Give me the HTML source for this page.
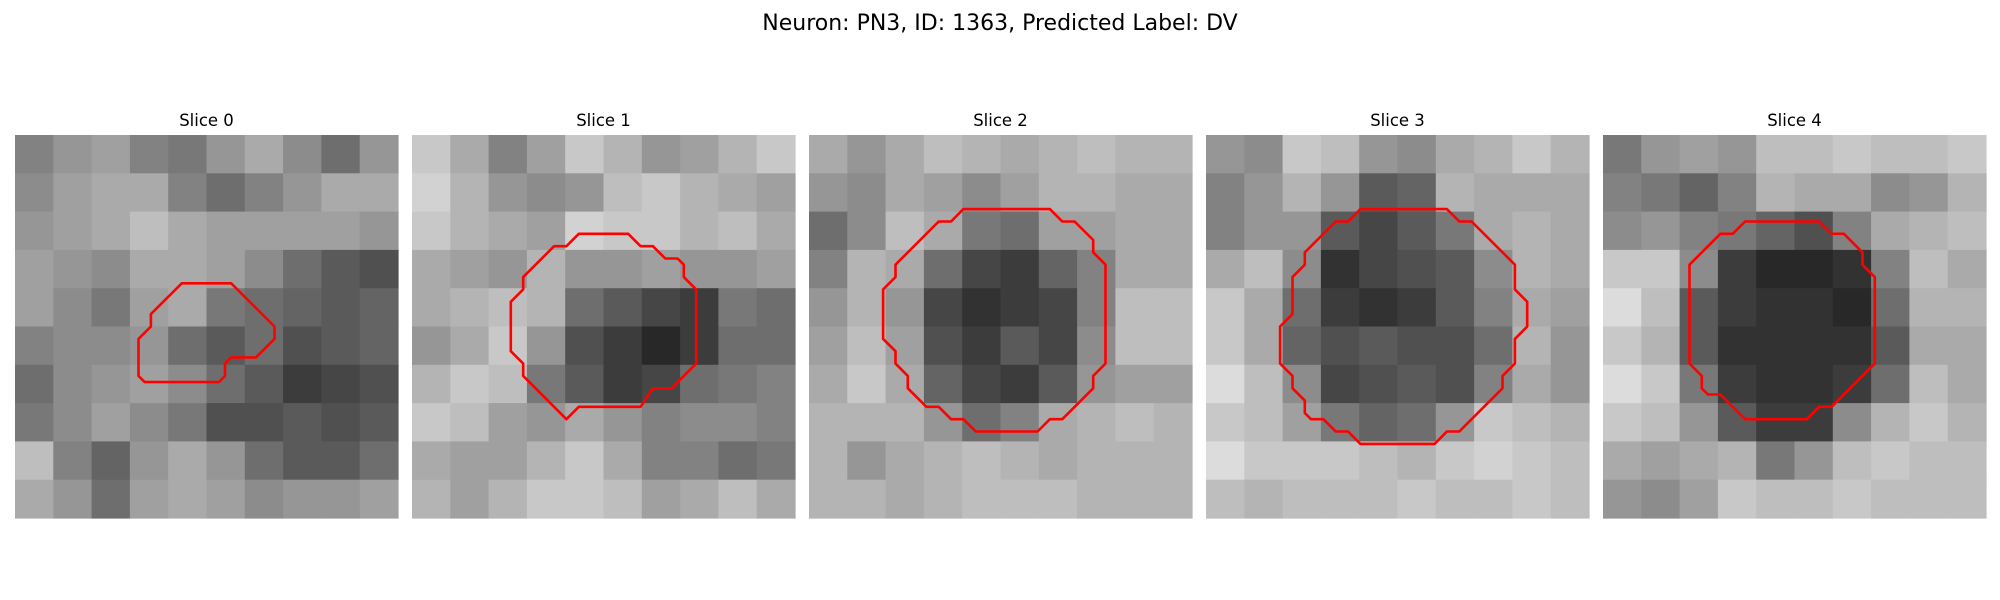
<!DOCTYPE html>
<html><head><meta charset="utf-8"><style>
html,body{margin:0;padding:0;background:#fff;width:2000px;height:600px;overflow:hidden}
svg{display:block}
text{font-family:"DejaVu Sans","Liberation Sans",sans-serif;fill:#000}
</style></head><body>
<svg id="fig" width="2000" height="600">
<text x="1000" y="30" text-anchor="middle" font-size="22">Neuron: PN3, ID: 1363, Predicted Label: DV</text>
</svg>
<script>
const sliceTitles = ["Slice 0","Slice 1","Slice 2","Slice 3","Slice 4"];
// coarse 10x10 brightness estimates (0=black, 255=white) per slice
const slice0 = [
[130,150,160,130,120,150,170,140,110,150],
[140,160,170,170,130,110,130,150,170,170],
[150,160,170,190,170,160,160,160,160,150],
[160,150,140,170,170,160,140,110,90,80],
[160,140,120,160,170,120,110,100,90,100],
[130,140,140,150,110,90,110,80,90,100],
[110,140,150,160,140,110,90,60,70,80],
[120,140,160,140,120,80,80,90,80,90],
[190,130,100,150,170,150,110,90,90,110],
[170,150,110,160,170,160,140,150,150,160]];
const slice1 = [
[200,170,130,160,200,180,150,160,180,200],
[210,180,150,140,150,190,200,180,170,160],
[200,180,170,160,210,200,200,180,190,170],
[170,160,150,180,150,150,160,150,150,160],
[170,180,190,180,110,90,70,60,120,110],
[150,170,200,150,80,60,40,60,110,110],
[180,200,190,120,90,60,70,110,120,130],
[200,190,160,150,170,150,130,140,140,130],
[170,160,160,180,200,170,130,130,110,120],
[180,160,180,200,200,190,160,170,190,170]];
const slice2 = [
[170,150,170,190,180,170,180,190,180,180],
[150,140,170,160,140,160,180,180,170,170],
[110,140,190,170,120,110,160,160,170,170],
[130,180,170,110,70,60,100,130,170,170],
[150,180,150,70,50,60,70,130,190,190],
[160,190,160,80,60,90,70,140,190,190],
[170,200,170,100,70,60,90,150,160,160],
[180,180,180,150,110,130,170,180,190,180],
[180,150,170,180,190,180,170,180,180,180],
[180,180,170,180,190,190,190,180,180,180]];
const slice3 = [
[150,140,200,190,150,140,170,180,200,180],
[130,150,180,150,90,100,180,170,170,170],
[130,150,150,90,70,90,120,170,180,170],
[170,190,140,50,70,80,90,140,180,170],
[200,170,110,60,50,60,90,130,170,160],
[200,170,100,80,90,80,80,110,180,150],
[220,190,140,70,80,90,80,130,170,150],
[200,190,160,120,100,110,150,200,190,180],
[220,200,200,200,190,180,200,210,200,190],
[190,180,190,190,190,200,190,190,200,190]];
const slice4 = [
[120,150,160,150,190,190,200,190,190,200],
[130,120,100,130,180,170,170,140,150,180],
[140,150,130,120,100,80,130,170,180,190],
[200,200,140,60,40,40,50,130,190,170],
[220,190,90,60,50,50,40,110,180,180],
[200,180,90,50,50,50,50,90,170,170],
[220,200,120,60,50,50,60,110,190,170],
[200,190,150,90,60,60,140,180,200,180],
[170,160,170,180,120,150,190,200,190,190],
[150,140,160,200,190,190,200,190,190,190]];
// contour vertices in image-pixel units (31x31 image)
const contour0 = [[13.5,12],[17.5,12],[21,15.5],[21,16.5],[19.5,18],[17.5,18],[17,18.5],[17,19.5],[16.5,20],[10.5,20],[10,19.5],[10,16.5],[11,15.5],[11,14.5]];
const contour1 = [[13.5,8],[17.5,8],[18.5,9],[19.5,9],[20.5,10],[21.5,10],[22,10.5],[22,11.5],[23,12.5],[23,18.5],[21,20.5],[19.5,20.5],[18.5,22],[13.5,22],[12.5,23],[9,19.5],[9,18.5],[8,17.5],[8,13.5],[9,12.5],[9,11.5],[11.5,9],[12.5,9]];
const contour2 = [[12.5,6],[19.5,6],[20.5,7],[21.5,7],[23,8.5],[23,9.5],[24,10.5],[24,18.5],[23,19.5],[23,20.5],[20.5,23],[19.5,23],[18.5,24],[13.5,24],[12.5,23],[11.5,23],[10.5,22],[9.5,22],[8,20.5],[8,19.5],[7,18.5],[7,17.5],[6,16.5],[6,12.5],[7,11.5],[7,10.5],[10.5,7],[11.5,7]];
const contour3 = [[12.5,6],[19.5,6],[20.5,7],[21.5,7],[25,10.5],[25,12.5],[26,13.5],[26,15.5],[25,16.5],[25,18.5],[24,19.5],[24,20.5],[20.5,24],[19.5,24],[18.5,25],[12.5,25],[11.5,24],[10.5,24],[9.5,23],[8.5,23],[8,22.5],[8,21.5],[7,20.5],[7,19.5],[6,18.5],[6,15.5],[7,14.5],[7,11.5],[8,10.5],[8,9.5],[10.5,7],[11.5,7]];
const contour4 = [[11.5,7],[17.5,7],[18.5,8],[19.5,8],[21,9.5],[21,10.5],[22,11.5],[22,18.5],[18.5,22],[17.5,22],[16.5,23],[11.5,23],[9.5,21],[8.5,21],[8,20.5],[8,19.5],[7,18.5],[7,10.5],[9.5,8],[10.5,8]];

const grids=[slice0,slice1,slice2,slice3,slice4];
const contours=[contour0,contour1,contour2,contour3,contour4];
const NS="http://www.w3.org/2000/svg";
const svg=document.getElementById('fig');
const P0=15, GAP=397, TOP=135, SIZE=383, IMGN=31;
function px(i,g){return P0+i*GAP+g*SIZE/IMGN;}
function py(g){return TOP+g*SIZE/IMGN;}
for(let i=0;i<5;i++){
  const g=document.createElementNS(NS,'g');
  
  
  svg.appendChild(g);
  const grid=grids[i], n=grid.length, cs=SIZE/n;
  for(let r=0;r<n;r++)for(let c=0;c<n;c++){
    const v=grid[r][c];
    const rc=document.createElementNS(NS,'rect');
    rc.setAttribute('x',(P0+i*GAP+c*cs).toFixed(2));
    rc.setAttribute('y',(TOP+r*cs).toFixed(2));
    rc.setAttribute('width',(cs+0.6).toFixed(2));
    rc.setAttribute('height',(cs+0.6).toFixed(2));
    rc.setAttribute('fill','rgb('+v+','+v+','+v+')');
    
    
    g.appendChild(rc);
  }
  const pl=document.createElementNS(NS,'polygon');
  pl.setAttribute('points',contours[i].map(p=>px(i,p[0]).toFixed(1)+','+py(p[1]).toFixed(1)).join(' '));
  pl.setAttribute('fill','none');
  pl.setAttribute('stroke','#ff0000');
  pl.setAttribute('stroke-width','2.6');
  pl.setAttribute('stroke-linejoin','round');
  
  
  g.appendChild(pl);
  const t=document.createElementNS(NS,'text');
  t.setAttribute('x',(P0+i*GAP+SIZE/2).toFixed(1));
  t.setAttribute('y','126');
  t.setAttribute('text-anchor','middle');
  t.setAttribute('font-size','16.5');
  t.textContent=sliceTitles[i];
  
  
  g.appendChild(t);
}
</script>
</body></html>
